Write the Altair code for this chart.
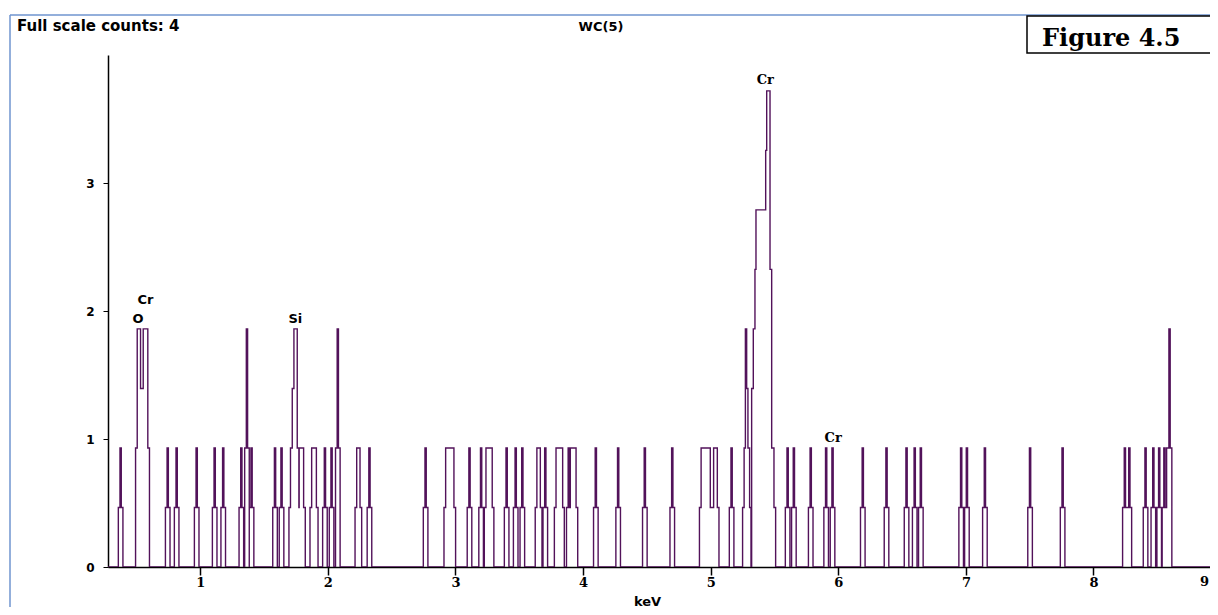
import altair as alt
import pandas as pd

# ---------------- data ----------------
# single-count spikes: centre energy (keV) and counts
spike_kev = [0.376, 0.745, 0.815, 0.972, 1.113, 1.180, 1.322, 1.366, 1.402, 1.586,
             1.637, 1.977, 2.029, 2.078, 2.326, 2.766, 3.110, 3.201, 3.401, 3.472,
             3.524, 3.704, 3.888, 4.100, 4.275, 4.484, 4.699, 5.164, 5.603, 5.652,
             5.784, 5.905, 5.955, 6.192, 6.378, 6.535, 6.599, 6.647, 6.963, 7.008,
             7.149, 7.503, 7.758, 8.246, 8.281, 8.408, 8.469, 8.515, 8.556, 8.578,
             8.596]
spike_counts = [1, 1, 1, 1, 1, 1, 1, 2, 1, 1,
                1, 1, 1, 2, 1, 1, 1, 1, 1, 1,
                1, 1, 1, 1, 1, 1, 1, 1, 1, 1,
                1, 1, 1, 1, 1, 1, 1, 1, 1, 1,
                1, 1, 1, 1, 1, 1, 1, 1, 1, 1,
                2]
# flat one-count plateaus (start / end keV)
plateau_start = [1.775, 1.873, 2.226, 2.923, 3.239, 3.638, 3.788, 3.900, 4.925, 5.023]
plateau_end = [1.810, 1.910, 2.252, 2.988, 3.288, 3.665, 3.840, 3.945, 4.997, 5.052]
# composite peaks (O/Cr-L, Si-K, Cr-K) as explicit steps
profile_start = [0.493, 0.506, 0.532, 0.553, 0.589,
                 1.695, 1.707, 1.721, 1.734, 1.760,
                 5.250, 5.262, 5.272, 5.282, 5.292, 5.305, 5.321, 5.334, 5.347, 5.355,
                 5.431, 5.439, 5.465, 5.478, 5.496]
profile_end = [0.506, 0.532, 0.553, 0.589, 0.602,
               1.707, 1.721, 1.734, 1.760, 1.773,
               5.262, 5.272, 5.282, 5.292, 5.305, 5.316, 5.334, 5.347, 5.355, 5.431,
               5.439, 5.465, 5.478, 5.496, 5.509]
profile_counts = [1, 2, 1.5, 2, 1,
                  0.5, 1, 1.5, 2, 1,
                  0.5, 1, 2, 1.5, 1, 0.5, 1.5, 2, 2.5, 3,
                  3.5, 4, 2.5, 1, 0.5]

label_text = ["O", "Cr", "Si", "Cr", "Cr"]
label_kev = [0.513, 0.570, 1.745, 5.428, 5.960]
label_y = [1.88, 2.03, 1.88, 3.75, 0.95]
label_font = ["DejaVu Sans", "DejaVu Sans", "DejaVu Sans", "DejaVu Serif", "DejaVu Serif"]

x_ticks = [1, 2, 3, 4, 5, 6, 7, 8]
y_ticks = [0, 1, 2, 3]

COUNT_SCALE = 0.93          # display units per count
X_MIN, X_MAX = 0.277, 8.913
HALF_FULL, SHOULDER = 0.005, 0.013
LINE_COLOR = "#52125a"

# ---------------- build step table ----------------
ivs = []
for c, n in zip(spike_kev, spike_counts):
    ivs += [(c - HALF_FULL - SHOULDER, c - HALF_FULL, n / 2),
            (c - HALF_FULL, c + HALF_FULL, n),
            (c + HALF_FULL, c + HALF_FULL + SHOULDER, n / 2)]
for s, e in zip(plateau_start, plateau_end):
    ivs += [(s - SHOULDER, s, 0.5), (s, e, 1), (e, e + SHOULDER, 0.5)]
for s, e, n in zip(profile_start, profile_end, profile_counts):
    ivs.append((s, e, n))

edges = sorted(set([X_MIN, X_MAX] + [v for iv in ivs for v in iv[:2]]))
rows = []
prev = None
for a, b in zip(edges[:-1], edges[1:]):
    m = (a + b) / 2
    lvl = max([n for s, e, n in ivs if s <= m < e], default=0)
    if lvl != prev:
        rows.append({"keV": a, "counts": lvl * COUNT_SCALE})
        prev = lvl
rows.append({"keV": X_MAX, "counts": 0})
spec = pd.DataFrame(rows)

labels = pd.DataFrame({"t": label_text, "keV": label_kev, "y": label_y, "f": label_font})

xscale = alt.Scale(domain=[X_MIN, X_MAX], zero=False, nice=False)
yscale = alt.Scale(domain=[0, 4], nice=False, zero=True)

line = alt.Chart(spec).mark_line(
    interpolate="step-after", color=LINE_COLOR, strokeWidth=1.4, clip=True
).encode(
    x=alt.X("keV:Q", scale=xscale,
            axis=alt.Axis(values=x_ticks, format="d", tickSize=8, tickColor="black",
                          tickWidth=1.5, domainColor="black", domainWidth=1.5,
                          labelFont="DejaVu Serif", labelFontWeight="bold",
                          labelFontSize=13, labelColor="black", labelPadding=1,
                          grid=False, title="keV", titleFont="DejaVu Sans",
                          titleFontWeight="bold", titleFontSize=13, titleColor="black",
                          titleX=539, titleY=38, titleBaseline="alphabetic")),
    y=alt.Y("counts:Q", scale=yscale,
            axis=alt.Axis(values=y_ticks, format="d", tickSize=5, tickColor="black",
                          domainColor="black", domainWidth=1.5,
                          labelFont="DejaVu Sans", labelFontWeight="bold",
                          labelFontSize=12, labelColor="black", labelPadding=9,
                          grid=False, title=None)),
)

# the "9" tick label sits at the cropped right edge
edge_label = alt.Chart(pd.DataFrame({"t": ["9"]})).mark_text(
    font="DejaVu Serif", fontWeight="bold", fontSize=13, color="black",
    baseline="top", align="right", dy=9
).encode(x=alt.value(1101), y=alt.value(512), text="t:N")

def elem_layer(font):
    return alt.Chart(labels[labels.f == font]).mark_text(
        font=font, fontWeight="bold", fontSize=13, color="black", baseline="bottom"
    ).encode(x=alt.X("keV:Q", scale=xscale), y=alt.Y("y:Q", scale=yscale), text="t:N")

one = pd.DataFrame({"t": [""]})
frame_top = alt.Chart(one).mark_rule(color="#6f95cf", strokeWidth=1.5).encode(
    x=alt.value(-98), x2=alt.value(1112), y=alt.value(-40))
frame_left = alt.Chart(one).mark_rule(color="#6f95cf", strokeWidth=1.5).encode(
    x=alt.value(-98), y=alt.value(-40), y2=alt.value(560))
title_left = alt.Chart(pd.DataFrame({"t": ["Full scale counts: 4"]})).mark_text(
    font="DejaVu Sans", fontWeight="bold", fontSize=15, align="left", baseline="alphabetic",
    color="black").encode(x=alt.value(-91), y=alt.value(-24), text="t:N")
title_mid = alt.Chart(pd.DataFrame({"t": ["WC(5)"]})).mark_text(
    font="DejaVu Sans", fontWeight="bold", fontSize=13, align="center", baseline="alphabetic",
    color="black").encode(x=alt.value(493), y=alt.value(-24), text="t:N")
fig_box = alt.Chart(one).mark_rect(fill="white", stroke="black", strokeWidth=1.5).encode(
    x=alt.value(919), x2=alt.value(1120), y=alt.value(-39), y2=alt.value(-2))
fig_text = alt.Chart(pd.DataFrame({"t": ["Figure 4.5"]})).mark_text(
    font="DejaVu Serif", fontWeight="bold", fontSize=24, align="left", baseline="alphabetic",
    color="black").encode(x=alt.value(934), y=alt.value(-9), text="t:N")

chart = alt.layer(
    frame_top, frame_left, line, edge_label, elem_layer("DejaVu Sans"),
    elem_layer("DejaVu Serif"), title_left, title_mid, fig_box, fig_text
).properties(
    width=1102, height=512,
    padding={"left": 100, "top": 47, "right": 0, "bottom": 40},
    autosize=alt.AutoSizeParams(type="none"),
    background="white",
).configure_view(stroke=None)

chart.save("out.html", embed_options={"renderer": "svg", "actions": False})
